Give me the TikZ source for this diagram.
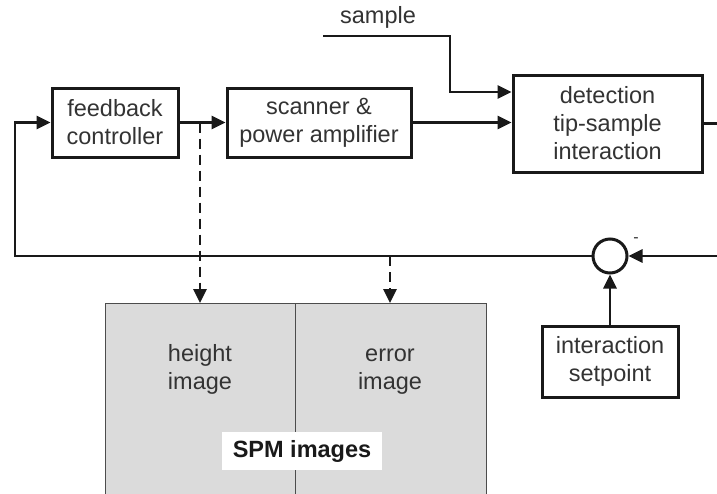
\documentclass[tikz,border=0pt]{standalone}
\usepackage{fontspec}
\setmainfont{Liberation Sans}
\usetikzlibrary{arrows.meta,calc}
\begin{document}
\begin{tikzpicture}[x=1pt,y=-1pt,
  every node/.style={font=\fontsize{23.5}{28}\selectfont, text=black!80},
  blk/.style={draw=black!90, line width=3pt, fill=white, align=center, inner sep=0pt},
  conn/.style={line width=2.8pt, draw=black!90},
  arr/.style={conn, -{Triangle[length=14pt,width=13pt]}},
  darr/.style={arr, dash pattern=on 10pt off 6pt},
  imgbox/.style={draw=black!70, line width=1.2pt, fill=black!14, inner sep=0pt}
]
\useasboundingbox (0,0) rectangle (717,493);
\clip (0,0) rectangle (717,493);
\fill[white] (0,0) rectangle (717,493);

% SPM images area
\node[imgbox, minimum width=190pt, minimum height=200pt, anchor=north west] (hi) at (105,303) {};
\node[imgbox, minimum width=191pt, minimum height=200pt, anchor=north west] (er) at (295,303) {};
\node[align=center] (hit) at (200,369) {height\\image};
\node[align=center] (ert) at (390,372) {error\\image};
\node[fill=white, minimum width=160pt, minimum height=38pt, inner sep=0pt, font=\fontsize{23.5}{28}\selectfont\bfseries, text=black!90] (lab) at (302,451) {SPM images};

% blocks
\node[blk, minimum width=126pt, minimum height=69pt] (fc) at (115,122.5) {feedback\\controller};
\node[blk, minimum width=184pt, minimum height=69pt] (sc) at (319,122.5) {scanner \&\\power amplifier};
\node[blk, minimum width=189pt, minimum height=97pt] (det) at (607.5,123.5) {detection\\tip-sample\\interaction};
\node[blk, minimum width=136pt, minimum height=71pt] (sp) at (610,361.5) {interaction\\setpoint};
\node[circle, draw=black!90, line width=3pt, fill=white, minimum size=34pt, inner sep=0pt] (sum) at (610,256) {};
\node (minus) at (636,240) {\fontsize{16}{16}\selectfont -};

% sample
\node (smp) at (378,17) {sample};
\coordinate (s0) at (323,36);
\draw[arr] (s0) -- (450,36) -- (450,92) -- (det.west |- 0,92);

% forward path
\draw[arr] (fc.east) -- (sc.west);
\draw[arr] (sc.east) -- (sc.east -| det.west);

% feedback loop
\coordinate (rc) at (730,256);
\draw[conn] (det.east) -- (730,123.5) -- (rc);
\draw[arr] (rc) -- (sum.east);
\draw[arr] (sp.north) -- (sum.south);
\coordinate (lc) at (15,256);
\draw[arr] (sum.west) -- (lc) -- (lc |- fc.west) -- (fc.west);

% dashed taps
\coordinate (t1) at (200,122.5);
\coordinate (t2) at (390,256);
\draw[darr] (t1) -- (t1 |- hi.north);
\draw[darr] (t2) -- (t2 |- er.north);
\end{tikzpicture}
\end{document}
